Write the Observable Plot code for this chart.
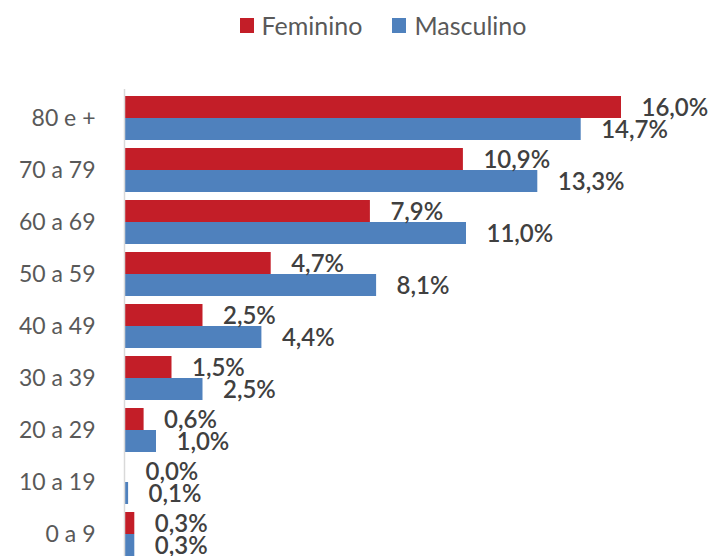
<!DOCTYPE html>
<html>
<head>
<meta charset="utf-8">
<script src="https://cdn.jsdelivr.net/npm/d3@7"></script>
<script src="https://cdn.jsdelivr.net/npm/@observablehq/plot@0.6"></script>
<style>
  body { margin: 0; background: #fff; overflow: hidden; font-family: Lato, "Open Sans", sans-serif; }
  #legenda { height: 50px; display: flex; justify-content: center; align-items: center; padding-left: 52px; box-sizing: border-box; font-size: 25px; color: #595959; }
  #legenda span.q { display: inline-block; width: 14px; height: 15px; margin-right: 8px; }
  #legenda span.item { display: flex; align-items: center; margin: 0 15px; }
</style>
</head>
<body>
<div id="legenda"></div>
<div id="chart"></div>
<script>
const faixas = ['80 e +', '70 a 79', '60 a 69', '50 a 59', '40 a 49', '30 a 39', '20 a 29', '10 a 19', '0 a 9'];
const feminino = [16.0, 10.9, 7.9, 4.7, 2.5, 1.5, 0.6, 0.0, 0.3];
const masculino = [14.7, 13.3, 11.0, 8.1, 4.4, 2.5, 1.0, 0.1, 0.3];
const series = ['Feminino', 'Masculino'];
const cores = ['#C31E28', '#4F81BD'];

const fem = faixas.map((f, i) => ({faixa: f, valor: feminino[i]}));
const mas = faixas.map((f, i) => ({faixa: f, valor: masculino[i]}));
const rotulo = (d) => d.valor.toFixed(1).replace('.', ',') + '%';

d3.select('#legenda')
  .selectAll('span.item')
  .data(series)
  .join('span')
  .attr('class', 'item')
  .html((d, i) => `<span class="q" style="background:${cores[i]}"></span>${d}`);

let chart = Plot.plot({
  width: 714,
  height: 512,
  marginTop: 39,
  marginBottom: 0,
  marginLeft: 125,
  marginRight: 0,
  style: {fontFamily: 'Lato, sans-serif', fontSize: '23px', color: '#595959'},
  x: {domain: [0, 19], axis: null},
  y: {domain: faixas, paddingInner: 0.162, paddingOuter: 0.081, label: null, tickSize: 0, tickPadding: 30},
  marks: [
    Plot.barX(fem, {x: 'valor', y: 'faixa', fill: cores[0], insetBottom: 22}),
    Plot.barX(mas, {x: 'valor', y: 'faixa', fill: cores[1], insetTop: 22}),
    Plot.ruleX([0], {stroke: '#D9D9D9', strokeWidth: 1.5, dx: -1}),
    Plot.text(fem, {x: 'valor', y: 'faixa', text: rotulo, dx: 20, dy: -10, textAnchor: 'start', fill: '#404040', fontSize: 24, fontWeight: 600}),
    Plot.text(mas, {x: 'valor', y: 'faixa', text: rotulo, dx: 20, dy: 12, textAnchor: 'start', fill: '#404040', fontSize: 24, fontWeight: 600}),
  ],
});

d3.select('#chart').append(() => chart);
</script>
</body>
</html>
